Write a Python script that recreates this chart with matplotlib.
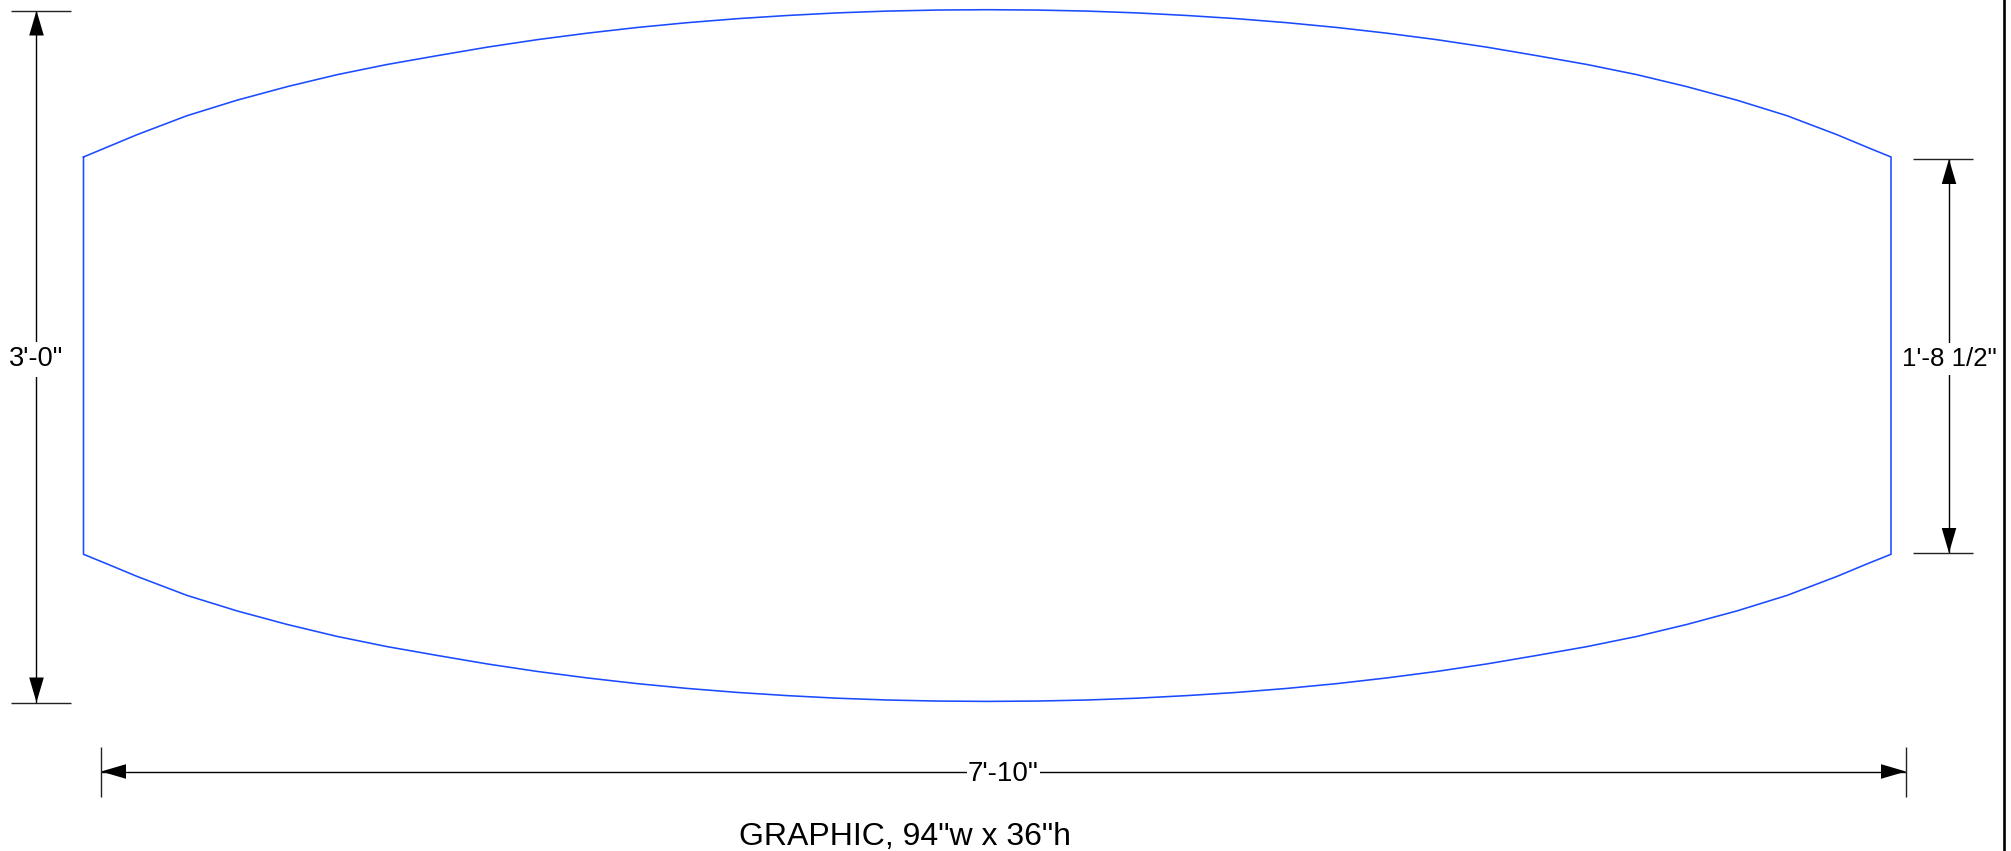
import matplotlib
matplotlib.use("Agg")
import matplotlib.pyplot as plt
from matplotlib.patches import Polygon

plt.rcParams['font.family'] = ['Liberation Sans', 'DejaVu Sans']

# Outline, in image pixels
top_x = [83.5, 107, 137, 187, 237, 287, 337, 387, 437, 487, 537, 587, 637, 687, 737, 787, 837, 887, 937, 987,
         1037, 1087, 1137, 1187, 1237, 1287, 1337, 1387, 1437, 1487, 1537, 1587, 1637, 1687, 1737, 1787, 1837, 1867, 1891]
top_y = [157, 147.2, 134.7, 115.7, 100.2, 86.7, 74.7, 64.5, 55.7, 47.2, 39.7, 33.2, 27.5, 22.7, 18.7, 15.5, 12.9, 11.1, 10.05, 9.7,
         10.05, 11.1, 12.9, 15.5, 18.7, 22.7, 27.5, 33.2, 39.7, 47.2, 55.7, 64.5, 74.7, 86.7, 100.2, 115.7, 134.7, 147.2, 157]
bottom_y = [554.3, 563.9, 576.4, 595.4, 610.9, 624.4, 636.4, 646.6, 655.4, 663.9, 671.4, 677.9, 683.6, 688.4, 692.4, 695.6, 698.2, 700, 701.05, 701.4,
            701.05, 700, 698.2, 695.6, 692.4, 688.4, 683.6, 677.9, 671.4, 663.9, 655.4, 646.6, 636.4, 624.4, 610.9, 595.4, 576.4, 563.9, 554.3]

# Dimension lines: label, fixed position, start, end, extension line start and end
height_dim = ["3'-0\"", 36.5, 10.5, 702.5, 11, 71]
side_dim = ["1'-8 1/2\"", 1949, 159, 553, 1913, 1973]
width_dim = ["7'-10\"", 771.5, 101, 1906, 747, 797]
caption = "GRAPHIC, 94\"w x 36\"h"
border_x = 2004.5

blue = '#1a4bff'
head_len = 25
head_w = 7.3
dim_lw = 1.0


def vertical_dim(ax, label, x, y0, y1, e0, e1, size=20):
    ax.plot([x, x], [y0, y1], color='black', lw=dim_lw, solid_capstyle='butt')
    for y, s in ((y0, 1), (y1, -1)):
        ax.plot([e0, e1], [y, y], color='#222222', lw=dim_lw, solid_capstyle='butt')
        ax.add_patch(Polygon([(x, y), (x - head_w, y + s * head_len), (x + head_w, y + s * head_len)],
                             color='black', lw=0))
    ax.text(x, (y0 + y1) / 2 + 3, label, fontsize=size, ha='center', va='center',
            bbox=dict(facecolor='white', edgecolor='none', pad=3))


def horizontal_dim(ax, label, y, x0, x1, e0, e1):
    ax.plot([x0, x1], [y, y], color='black', lw=dim_lw, solid_capstyle='butt')
    for x, s in ((x0, 1), (x1, -1)):
        ax.plot([x, x], [e0, e1], color='#222222', lw=dim_lw, solid_capstyle='butt')
        ax.add_patch(Polygon([(x, y), (x + s * head_len, y - head_w), (x + s * head_len, y + head_w)],
                             color='black', lw=0))
    ax.text((x0 + x1) / 2, y + 2.5, label, fontsize=20, ha='center', va='center',
            bbox=dict(facecolor='white', edgecolor='none', pad=1))


fig = plt.figure(figsize=(20.11, 8.51), dpi=100)
ax = fig.add_axes([0, 0, 1, 1])
ax.set_xlim(0, 2011)
ax.set_ylim(851, 0)
ax.axis('off')

# Graphic outline
ax.plot(top_x + top_x[::-1] + top_x[:1], top_y + bottom_y[::-1] + top_y[:1], color=blue, lw=1.15,
        solid_joinstyle='miter')

vertical_dim(ax, *height_dim, size=19.6)
vertical_dim(ax, *side_dim, size=18.6)
horizontal_dim(ax, *width_dim)

ax.text(905.5, 845, caption, fontsize=23, ha='center', va='baseline')

# Sheet border on the right
ax.plot([border_x, border_x], [0, 851], color='black', lw=1.9)

fig.savefig("out.png", dpi=100)
